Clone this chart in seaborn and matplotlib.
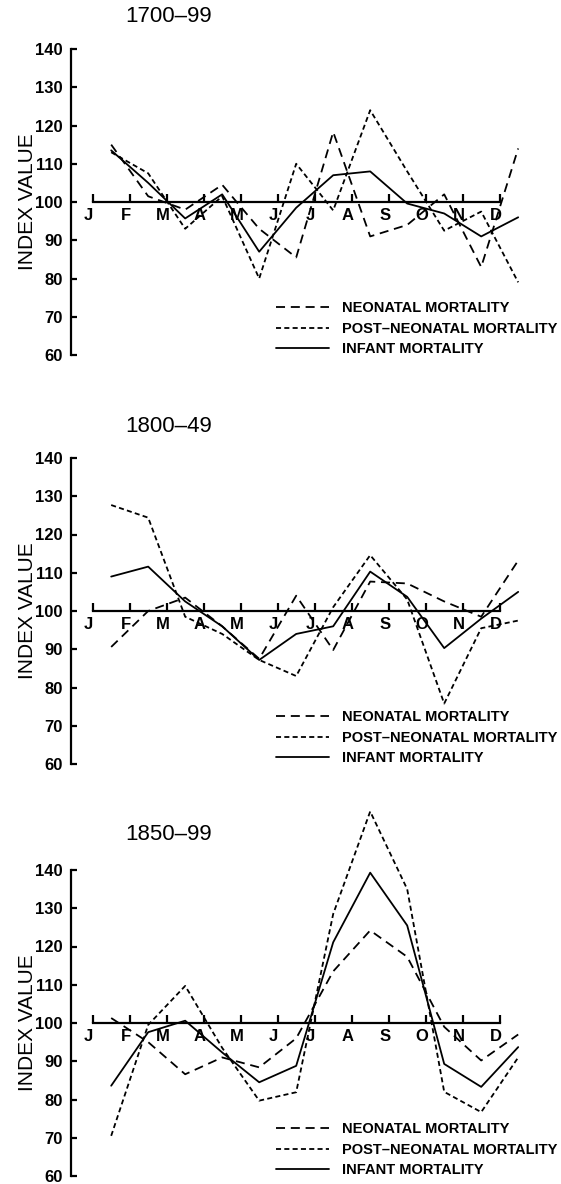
import numpy as np
import pandas as pd
import matplotlib
matplotlib.use("Agg")
import matplotlib.pyplot as plt
from matplotlib.transforms import ScaledTranslation
import seaborn as sns

# Monthly index values (100 = average month) for three periods
months = ["J", "F", "M", "A", "M", "J", "J", "A", "S", "O", "N", "D"]
periods = ["1700–99", "1800–49", "1850–99"]
series_names = ["NEONATAL MORTALITY", "POST–NEONATAL MORTALITY", "INFANT MORTALITY"]
y_ticks = [60, 70, 80, 90, 100, 110, 120, 130, 140]

neonatal_1700 = [115, 101.5, 98, 104.5, 93, 85.5, 118.3, 91, 94, 102, 83, 114]
post_1700 = [113, 107.5, 93, 101.5, 80, 110, 97.8, 124, 108, 92.5, 97.5, 79]
infant_1700 = [113.5, 105, 95.7, 102, 87, 98.5, 107, 108, 99.6, 97, 91, 96]

neonatal_1800 = [90.6, 100, 103.5, 96, 87.5, 104, 89.8, 107.7, 107.2, 102.5, 98.5, 113.2]
post_1800 = [127.7, 124.4, 98.5, 94, 87.2, 83, 101, 114.6, 103, 75.8, 95.5, 97.5]
infant_1800 = [109, 111.6, 102.5, 96, 87.2, 94, 96, 110.3, 103.7, 90.3, 98, 105]

neonatal_1850 = [101.3, 95, 86.6, 91, 88.4, 96, 113.5, 124.2, 117.3, 99, 90.2, 97]
post_1850 = [70.5, 99.5, 109.7, 93.5, 79.7, 81.9, 128.5, 155.3, 135, 82, 76.7, 91]
infant_1850 = [83.6, 97.6, 100.6, 92.3, 84.5, 88.8, 121.1, 139.3, 125.5, 89.3, 83.3, 93.7]

panel_values = [
    [neonatal_1700, post_1700, infant_1700],
    [neonatal_1800, post_1800, infant_1800],
    [neonatal_1850, post_1850, infant_1850],
]

sns.set_theme(style="ticks")
plt.rcParams["font.family"] = ["Liberation Sans", "DejaVu Sans"]

line_styles = {
    "NEONATAL MORTALITY": (0, (5.0, 3.2)),
    "POST–NEONATAL MORTALITY": (0, (2.8, 1.8)),
    "INFANT MORTALITY": "-",
}

W, H = 561, 1184
fig = plt.figure(figsize=(W / 100, H / 100), dpi=100)
fig.patch.set_facecolor("white")

left = 71 / W
width = 465.7 / W
height = 306 / H
tops = [49, 458, 870]
title_gap = [32, 32, 35]

for k, (period, values) in enumerate(zip(periods, panel_values)):
    bottom = 1 - (tops[k] + 306) / H
    ax = fig.add_axes([left, bottom, width, height])
    ax.set_facecolor("white")

    # month values sit midway between month-start ticks
    df = pd.DataFrame({"pos": np.arange(len(months)) + 0.5})
    for name, vals in zip(series_names, values):
        df[name] = vals
    long = df.melt(id_vars="pos", var_name="series", value_name="value")

    for name in series_names:
        sub = long[long["series"] == name]
        sns.lineplot(data=sub, x="pos", y="value", ax=ax, color="black",
                     linewidth=1.3, linestyle=line_styles[name], label=name,
                     clip_on=False, legend=False)

    ax.set_xlim(-0.586, 12.0)
    ax.set_ylim(60, 140)

    # y axis
    ax.spines["top"].set_visible(False)
    ax.spines["right"].set_visible(False)
    ax.spines["left"].set_bounds(60, 140)
    ax.spines["left"].set_linewidth(1.6)
    ax.spines["left"].set_color("black")
    ax.set_yticks(y_ticks)
    ax.set_yticklabels([str(v) for v in y_ticks], fontweight="bold")
    ax.tick_params(axis="y", direction="in", length=4, width=1.6,
                   labelsize=12, pad=6, colors="black")

    # month axis drawn along the 100 line
    ax.spines["bottom"].set_position(("data", 100))
    ax.spines["bottom"].set_bounds(0, 11)
    ax.spines["bottom"].set_linewidth(1.6)
    ax.spines["bottom"].set_color("black")
    ax.set_xticks(np.arange(len(months)))
    ax.set_xticklabels(months, fontweight="bold")
    ax.tick_params(axis="x", direction="in", length=6, width=1.6,
                   labelsize=12, pad=4, colors="black")
    shift = ScaledTranslation(-4 / 100, 0, fig.dpi_scale_trans)
    for lab in ax.get_xticklabels():
        lab.set_transform(lab.get_transform() + shift)

    ax.set_xlabel("")
    ax.set_ylabel("INDEX VALUE", fontsize=15, color="black")
    ax.yaxis.set_label_coords((37 - 71) / 465.7, 0.5)

    ax.text((125 - 71) / 465.7, 1 + title_gap[k] / 306, period,
            transform=ax.transAxes, fontsize=16, va="center", ha="left",
            color="black")

    handles = ax.get_lines()[:3]
    leg = ax.legend(handles, series_names, loc="center left",
                    bbox_to_anchor=((276 - 71) / 465.7, (66.9 - 60) / 80),
                    frameon=False, handlelength=3.6,
                    handletextpad=0.95, labelspacing=0.45, borderpad=0,
                    borderaxespad=0, prop={"weight": "bold", "size": 10.5})
    for t in leg.get_texts():
        t.set_color("black")

fig.savefig("out.png", dpi=100, facecolor="white")
